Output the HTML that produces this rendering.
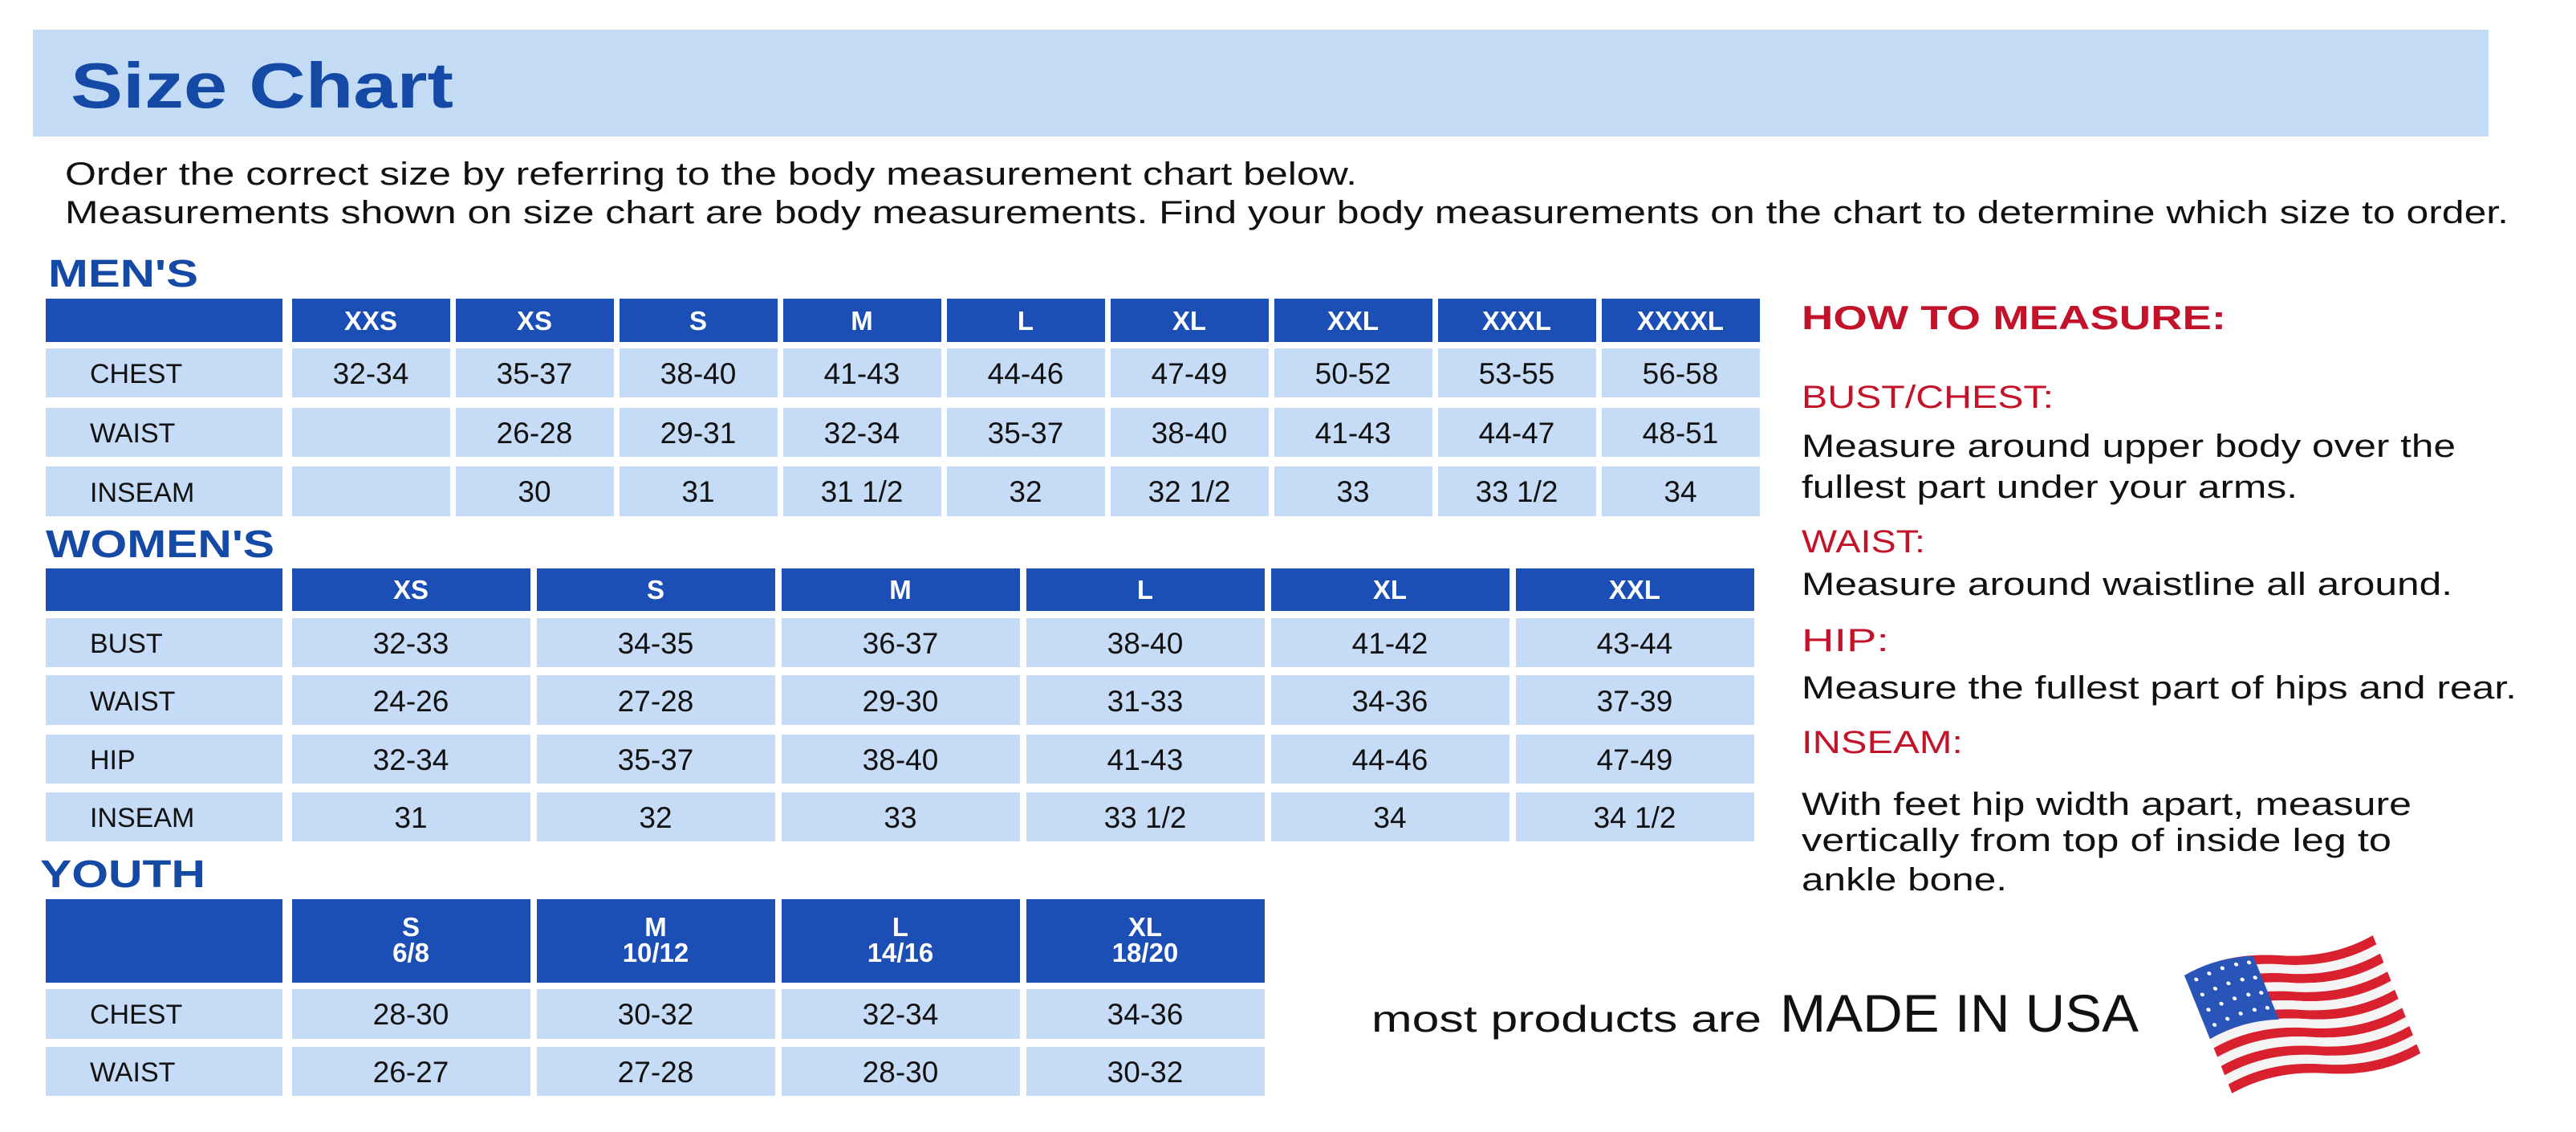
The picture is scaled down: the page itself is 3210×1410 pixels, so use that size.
<!DOCTYPE html>
<html><head><meta charset="utf-8"><style>
html,body{margin:0;padding:0;background:#fff;}
svg{display:block;}
text{font-family:"Liberation Sans",sans-serif;}
.h{fill:#fff;font-weight:bold;font-size:33px;text-anchor:middle;}
.d{fill:#111;font-size:37px;text-anchor:middle;}
.l{fill:#111;font-size:34px;}
.sec{fill:#1449a6;font-weight:bold;font-size:48px;}
.red{fill:#c3132b;font-size:40px;}
.blk{fill:#111;font-size:40px;}
</style></head><body>
<svg width="3210" height="1410" viewBox="0 0 3210 1410" xmlns="http://www.w3.org/2000/svg">
<defs>
<path id="st" d="M0,0 Q60,-18 120,0 T240,0 L240,12 Q180,30 120,12 Q60,-6 0,12 Z"/>
</defs>
<rect x="0" y="0" width="3210" height="1410" fill="#fff"/>
<rect x="41" y="37" width="3060" height="133" fill="#c4dbf6"/>
<text x="88" y="134" font-size="80" font-weight="bold" fill="#1449a6" textLength="477" lengthAdjust="spacingAndGlyphs">Size Chart</text>
<text x="81" y="230" font-size="40" fill="#111" textLength="1610" lengthAdjust="spacingAndGlyphs">Order the correct size by referring to the body measurement chart below.</text>
<text x="81" y="278" font-size="40" fill="#111" textLength="3045" lengthAdjust="spacingAndGlyphs">Measurements shown on size chart are body measurements.  Find your body measurements on the chart to determine which size to order.</text>

<!-- MEN -->
<text class="sec" x="60" y="357" textLength="187" lengthAdjust="spacingAndGlyphs">MEN'S</text>
<g fill="#1b4fb6">
<rect x="57" y="372" width="295" height="54"/>
<rect x="364" y="372" width="197" height="54"/><rect x="568" y="372" width="197" height="54"/><rect x="772" y="372" width="197" height="54"/><rect x="976" y="372" width="197" height="54"/><rect x="1180" y="372" width="197" height="54"/><rect x="1384" y="372" width="197" height="54"/><rect x="1588" y="372" width="197" height="54"/><rect x="1792" y="372" width="197" height="54"/><rect x="1996" y="372" width="197" height="54"/>
</g>
<g fill="#c6dcf6">
<rect x="57" y="434" width="295" height="61"/><rect x="57" y="508" width="295" height="61"/><rect x="57" y="581" width="295" height="62"/>
<rect x="364" y="434" width="197" height="61"/><rect x="568" y="434" width="197" height="61"/><rect x="772" y="434" width="197" height="61"/><rect x="976" y="434" width="197" height="61"/><rect x="1180" y="434" width="197" height="61"/><rect x="1384" y="434" width="197" height="61"/><rect x="1588" y="434" width="197" height="61"/><rect x="1792" y="434" width="197" height="61"/><rect x="1996" y="434" width="197" height="61"/>
<rect x="364" y="508" width="197" height="61"/><rect x="568" y="508" width="197" height="61"/><rect x="772" y="508" width="197" height="61"/><rect x="976" y="508" width="197" height="61"/><rect x="1180" y="508" width="197" height="61"/><rect x="1384" y="508" width="197" height="61"/><rect x="1588" y="508" width="197" height="61"/><rect x="1792" y="508" width="197" height="61"/><rect x="1996" y="508" width="197" height="61"/>
<rect x="364" y="581" width="197" height="62"/><rect x="568" y="581" width="197" height="62"/><rect x="772" y="581" width="197" height="62"/><rect x="976" y="581" width="197" height="62"/><rect x="1180" y="581" width="197" height="62"/><rect x="1384" y="581" width="197" height="62"/><rect x="1588" y="581" width="197" height="62"/><rect x="1792" y="581" width="197" height="62"/><rect x="1996" y="581" width="197" height="62"/>
</g>
<text class="h" x="462" y="411">XXS</text><text class="h" x="666" y="411">XS</text><text class="h" x="870" y="411">S</text><text class="h" x="1074" y="411">M</text><text class="h" x="1278" y="411">L</text><text class="h" x="1482" y="411">XL</text><text class="h" x="1686" y="411">XXL</text><text class="h" x="1890" y="411">XXXL</text><text class="h" x="2094" y="411">XXXXL</text>
<text class="l" x="112" y="477">CHEST</text><text class="l" x="112" y="551">WAIST</text><text class="l" x="112" y="625">INSEAM</text>
<text class="d" x="462" y="478">32-34</text><text class="d" x="666" y="478">35-37</text><text class="d" x="870" y="478">38-40</text><text class="d" x="1074" y="478">41-43</text><text class="d" x="1278" y="478">44-46</text><text class="d" x="1482" y="478">47-49</text><text class="d" x="1686" y="478">50-52</text><text class="d" x="1890" y="478">53-55</text><text class="d" x="2094" y="478">56-58</text>
<text class="d" x="666" y="552">26-28</text><text class="d" x="870" y="552">29-31</text><text class="d" x="1074" y="552">32-34</text><text class="d" x="1278" y="552">35-37</text><text class="d" x="1482" y="552">38-40</text><text class="d" x="1686" y="552">41-43</text><text class="d" x="1890" y="552">44-47</text><text class="d" x="2094" y="552">48-51</text>
<text class="d" x="666" y="625">30</text><text class="d" x="870" y="625">31</text><text class="d" x="1074" y="625">31 1/2</text><text class="d" x="1278" y="625">32</text><text class="d" x="1482" y="625">32 1/2</text><text class="d" x="1686" y="625">33</text><text class="d" x="1890" y="625">33 1/2</text><text class="d" x="2094" y="625">34</text>

<!-- WOMEN -->
<text class="sec" x="57" y="694" textLength="285" lengthAdjust="spacingAndGlyphs">WOMEN'S</text>
<g fill="#1b4fb6">
<rect x="57" y="708" width="295" height="53"/>
<rect x="364" y="708" width="297" height="53"/><rect x="669" y="708" width="297" height="53"/><rect x="974" y="708" width="297" height="53"/><rect x="1279" y="708" width="297" height="53"/><rect x="1584" y="708" width="297" height="53"/><rect x="1889" y="708" width="297" height="53"/>
</g>
<g fill="#c6dcf6">
<rect x="57" y="770" width="295" height="61"/><rect x="57" y="841" width="295" height="62"/><rect x="57" y="915" width="295" height="61"/><rect x="57" y="987" width="295" height="61"/>
<rect x="364" y="770" width="297" height="61"/><rect x="669" y="770" width="297" height="61"/><rect x="974" y="770" width="297" height="61"/><rect x="1279" y="770" width="297" height="61"/><rect x="1584" y="770" width="297" height="61"/><rect x="1889" y="770" width="297" height="61"/>
<rect x="364" y="841" width="297" height="62"/><rect x="669" y="841" width="297" height="62"/><rect x="974" y="841" width="297" height="62"/><rect x="1279" y="841" width="297" height="62"/><rect x="1584" y="841" width="297" height="62"/><rect x="1889" y="841" width="297" height="62"/>
<rect x="364" y="915" width="297" height="61"/><rect x="669" y="915" width="297" height="61"/><rect x="974" y="915" width="297" height="61"/><rect x="1279" y="915" width="297" height="61"/><rect x="1584" y="915" width="297" height="61"/><rect x="1889" y="915" width="297" height="61"/>
<rect x="364" y="987" width="297" height="61"/><rect x="669" y="987" width="297" height="61"/><rect x="974" y="987" width="297" height="61"/><rect x="1279" y="987" width="297" height="61"/><rect x="1584" y="987" width="297" height="61"/><rect x="1889" y="987" width="297" height="61"/>
</g>
<text class="h" x="512" y="746">XS</text><text class="h" x="817" y="746">S</text><text class="h" x="1122" y="746">M</text><text class="h" x="1427" y="746">L</text><text class="h" x="1732" y="746">XL</text><text class="h" x="2037" y="746">XXL</text>
<text class="l" x="112" y="813">BUST</text><text class="l" x="112" y="885">WAIST</text><text class="l" x="112" y="958">HIP</text><text class="l" x="112" y="1030">INSEAM</text>
<text class="d" x="512" y="814">32-33</text><text class="d" x="817" y="814">34-35</text><text class="d" x="1122" y="814">36-37</text><text class="d" x="1427" y="814">38-40</text><text class="d" x="1732" y="814">41-42</text><text class="d" x="2037" y="814">43-44</text>
<text class="d" x="512" y="886">24-26</text><text class="d" x="817" y="886">27-28</text><text class="d" x="1122" y="886">29-30</text><text class="d" x="1427" y="886">31-33</text><text class="d" x="1732" y="886">34-36</text><text class="d" x="2037" y="886">37-39</text>
<text class="d" x="512" y="959">32-34</text><text class="d" x="817" y="959">35-37</text><text class="d" x="1122" y="959">38-40</text><text class="d" x="1427" y="959">41-43</text><text class="d" x="1732" y="959">44-46</text><text class="d" x="2037" y="959">47-49</text>
<text class="d" x="512" y="1031">31</text><text class="d" x="817" y="1031">32</text><text class="d" x="1122" y="1031">33</text><text class="d" x="1427" y="1031">33 1/2</text><text class="d" x="1732" y="1031">34</text><text class="d" x="2037" y="1031">34 1/2</text>

<!-- YOUTH -->
<text class="sec" x="50" y="1105" textLength="206" lengthAdjust="spacingAndGlyphs">YOUTH</text>
<g fill="#1b4fb6">
<rect x="57" y="1120" width="295" height="104"/>
<rect x="364" y="1120" width="297" height="104"/><rect x="669" y="1120" width="297" height="104"/><rect x="974" y="1120" width="297" height="104"/><rect x="1279" y="1120" width="297" height="104"/>
</g>
<g fill="#c6dcf6">
<rect x="57" y="1232" width="295" height="62"/><rect x="57" y="1304" width="295" height="61"/>
<rect x="364" y="1232" width="297" height="62"/><rect x="669" y="1232" width="297" height="62"/><rect x="974" y="1232" width="297" height="62"/><rect x="1279" y="1232" width="297" height="62"/>
<rect x="364" y="1304" width="297" height="61"/><rect x="669" y="1304" width="297" height="61"/><rect x="974" y="1304" width="297" height="61"/><rect x="1279" y="1304" width="297" height="61"/>
</g>
<text class="h" x="512" y="1166">S</text><text class="h" x="512" y="1198">6/8</text>
<text class="h" x="817" y="1166">M</text><text class="h" x="817" y="1198">10/12</text>
<text class="h" x="1122" y="1166">L</text><text class="h" x="1122" y="1198">14/16</text>
<text class="h" x="1427" y="1166">XL</text><text class="h" x="1427" y="1198">18/20</text>
<text class="l" x="112" y="1275">CHEST</text><text class="l" x="112" y="1347">WAIST</text>
<text class="d" x="512" y="1276">28-30</text><text class="d" x="817" y="1276">30-32</text><text class="d" x="1122" y="1276">32-34</text><text class="d" x="1427" y="1276">34-36</text>
<text class="d" x="512" y="1348">26-27</text><text class="d" x="817" y="1348">27-28</text><text class="d" x="1122" y="1348">28-30</text><text class="d" x="1427" y="1348">30-32</text>

<!-- HOW TO MEASURE -->
<text x="2245" y="410" font-size="42" font-weight="bold" fill="#c3132b" textLength="529" lengthAdjust="spacingAndGlyphs">HOW TO MEASURE:</text>
<text class="red" x="2245" y="508" textLength="314" lengthAdjust="spacingAndGlyphs">BUST/CHEST:</text>
<text class="blk" x="2245" y="569" textLength="815" lengthAdjust="spacingAndGlyphs">Measure around upper body over the</text>
<text class="blk" x="2245" y="620" textLength="618" lengthAdjust="spacingAndGlyphs">fullest part under your arms.</text>
<text class="red" x="2245" y="688" textLength="154" lengthAdjust="spacingAndGlyphs">WAIST:</text>
<text class="blk" x="2245" y="741" textLength="811" lengthAdjust="spacingAndGlyphs">Measure around waistline all around.</text>
<text class="red" x="2245" y="811" textLength="109" lengthAdjust="spacingAndGlyphs">HIP:</text>
<text class="blk" x="2245" y="870" textLength="891" lengthAdjust="spacingAndGlyphs">Measure the fullest part of hips and rear.</text>
<text class="red" x="2245" y="938" textLength="201" lengthAdjust="spacingAndGlyphs">INSEAM:</text>
<text class="blk" x="2245" y="1015" textLength="760" lengthAdjust="spacingAndGlyphs">With feet hip width apart, measure</text>
<text class="blk" x="2245" y="1060" textLength="735" lengthAdjust="spacingAndGlyphs">vertically from top of inside leg to</text>
<text class="blk" x="2245" y="1109" textLength="256" lengthAdjust="spacingAndGlyphs">ankle bone.</text>

<text x="1709" y="1285" font-size="46" fill="#111" textLength="486" lengthAdjust="spacingAndGlyphs">most products are</text>
<text x="2218" y="1285" font-size="66" fill="#111" textLength="447" lengthAdjust="spacingAndGlyphs">MADE IN USA</text>

<!-- flag -->
<g transform="translate(2722,1215) rotate(-12) skewX(10)">
  <use href="#st" y="0" fill="#d9202e"/>
  <use href="#st" y="12" fill="#f4f4f4"/>
  <use href="#st" y="24" fill="#d9202e"/>
  <use href="#st" y="36" fill="#f4f4f4"/>
  <use href="#st" y="48" fill="#d9202e"/>
  <use href="#st" y="60" fill="#f4f4f4"/>
  <use href="#st" y="72" fill="#d9202e"/>
  <use href="#st" y="84" fill="#f4f4f4"/>
  <use href="#st" y="96" fill="#d9202e"/>
  <use href="#st" y="108" fill="#f4f4f4"/>
  <use href="#st" y="120" fill="#d9202e"/>
  <use href="#st" y="132" fill="#f4f4f4"/>
  <use href="#st" y="144" fill="#d9202e"/>
  <path d="M0,0 Q45,-14 90,-6 L90,78 Q45,70 0,84 Z" fill="#2a55b8"/>
  <g fill="#fff">
    <circle cx="12" cy="8" r="2.5"/><circle cx="30" cy="4" r="2.5"/><circle cx="48" cy="1" r="2.5"/><circle cx="66" cy="0" r="2.5"/><circle cx="82" cy="1" r="2.5"/>
    <circle cx="12" cy="28" r="2.5"/><circle cx="30" cy="24" r="2.5"/><circle cx="48" cy="21" r="2.5"/><circle cx="66" cy="20" r="2.5"/><circle cx="82" cy="21" r="2.5"/>
    <circle cx="12" cy="48" r="2.5"/><circle cx="30" cy="44" r="2.5"/><circle cx="48" cy="41" r="2.5"/><circle cx="66" cy="40" r="2.5"/><circle cx="82" cy="41" r="2.5"/>
    <circle cx="12" cy="68" r="2.5"/><circle cx="30" cy="64" r="2.5"/><circle cx="48" cy="61" r="2.5"/><circle cx="66" cy="60" r="2.5"/><circle cx="82" cy="61" r="2.5"/>
  </g>
</g>
</svg>
</body></html>
